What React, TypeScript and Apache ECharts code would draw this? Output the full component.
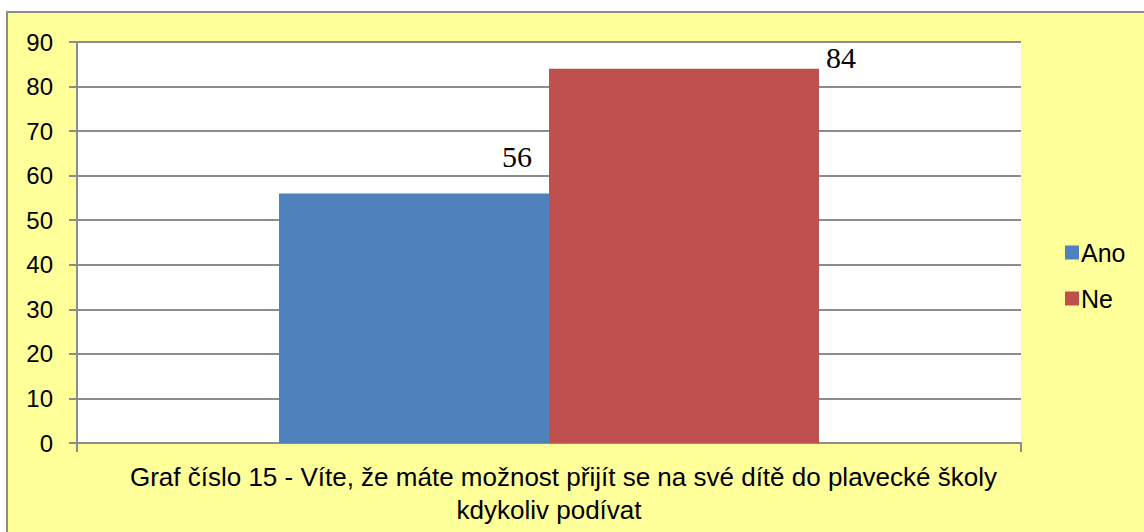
import React, { useEffect, useRef } from "react";
import * as echarts from "echarts";

const categories = [
  "    Graf číslo 15 - Víte, že máte možnost přijít se na své dítě do plavecké školy\nkdykoliv podívat",
];
const seriesNames = ["Ano", "Ne"];
const anoValues = [56];
const neValues = [84];
const yTicks = { min: 0, max: 90, interval: 10 };

const SANS = "'Liberation Sans', Arial, sans-serif";
const SERIF = "'Liberation Serif', 'Times New Roman', serif";

export default function App() {
  const ref = useRef<HTMLDivElement>(null);
  useEffect(() => {
    if (!ref.current) return;
    const chart = echarts.init(ref.current, null, { renderer: "svg" });
    chart.setOption({
      animation: false,
      backgroundColor: "#ffffff",
      graphic: [
        {
          type: "rect",
          z: -10,
          silent: true,
          shape: { x: 7, y: 12, width: 1200, height: 600 },
          style: { fill: "#FFFF99", stroke: "#8c8c8c", lineWidth: 2 },
        },
      ],
      grid: {
        left: 77,
        top: 42,
        right: 123,
        bottom: 89,
        show: true,
        backgroundColor: "#ffffff",
        borderWidth: 0,
      },
      legend: {
        orient: "vertical",
        left: 1060,
        top: 235,
        itemWidth: 14,
        itemHeight: 14,
        itemGap: 21,
        icon: "rect",
        textStyle: { fontFamily: SANS, fontSize: 25, color: "#000", lineHeight: 24, padding: [0, 0, 0, -3] },
        data: seriesNames,
      },
      xAxis: {
        type: "category",
        data: categories,
        axisLine: { show: true, lineStyle: { color: "#8c8c8c", width: 2 } },
        axisTick: { show: true, length: 9, interval: 0, lineStyle: { color: "#8c8c8c", width: 2 } },
        axisLabel: {
          interval: 0,
          margin: 17,
          fontFamily: SANS,
          fontSize: 26,
          lineHeight: 33,
          color: "#000",
        },
      },
      yAxis: {
        type: "value",
        min: yTicks.min,
        max: yTicks.max,
        interval: yTicks.interval,
        axisLine: { show: true, lineStyle: { color: "#8c8c8c", width: 2 } },
        axisTick: { show: true, length: 8, lineStyle: { color: "#8c8c8c", width: 2 } },
        axisLabel: { margin: 24, fontFamily: SANS, fontSize: 24, color: "#000" },
        splitLine: { show: true, lineStyle: { color: "#8c8c8c", width: 2 } },
      },
      series: [
        {
          name: seriesNames[0],
          type: "bar",
          data: anoValues,
          barGap: "0%",
          barCategoryGap: "42.8%",
          itemStyle: { color: "#4F81BD" },
          label: {
            show: true,
            position: "top",
            offset: [103, -17],
            fontFamily: SERIF,
            fontSize: 30,
            color: "#000",
          },
        },
        {
          name: seriesNames[1],
          type: "bar",
          data: neValues,
          barGap: "0%",
          barCategoryGap: "42.8%",
          itemStyle: { color: "#C0504D" },
          label: {
            show: true,
            position: "top",
            offset: [157, 9],
            fontFamily: SERIF,
            fontSize: 30,
            color: "#000",
          },
        },
      ],
    });
    return () => chart.dispose();
  }, []);
  return (
    <div
      ref={ref}
      style={{ position: "fixed", left: 0, top: 0, width: 1144, height: 532 }}
    />
  );
}
